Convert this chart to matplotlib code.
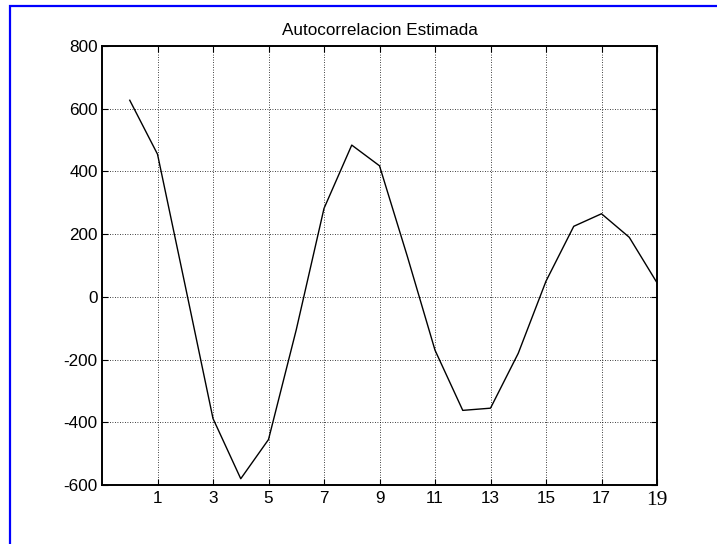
import matplotlib
matplotlib.use("Agg")
import matplotlib.pyplot as plt
from matplotlib.patches import Rectangle

lags = list(range(0, 20))
values = [627, 455, 35, -388, -580, -455, -105, 282, 484, 418,
          130, -170, -362, -355, -180, 50, 225, 265, 190, 45]
xticks = [1, 3, 5, 7, 9, 11, 13, 15, 17, 19]
yticks = [-600, -400, -200, 0, 200, 400, 600, 800]
title = "Autocorrelacion Estimada"

W, H = 717, 544
fig = plt.figure(figsize=(W / 100, H / 100), dpi=100)
fig.patch.set_facecolor("white")

# blue frame (top and left visible)
fig.patches.append(Rectangle((9.5 / W, -0.1), 1.2, 1.1 - 6.5 / H,
                             transform=fig.transFigure, fill=False,
                             edgecolor=(0, 0, 1), linewidth=1.6))

ax = fig.add_axes([102 / W, 1 - 485 / H, (657 - 102) / W, (485 - 46) / H])
ax.plot(lags, values, color="black", linewidth=1.0)
ax.set_xlim(-1, 19)
ax.set_ylim(-600, 800)
ax.set_xticks(xticks)
ax.set_yticks(yticks)
ax.set_xticklabels([str(t) for t in xticks])
ax.set_yticklabels([str(t) for t in yticks])
ax.grid(True, color="black", linestyle=(0, (1, 2)), linewidth=0.6)
ax.tick_params(direction="in", top=True, right=True, length=4, width=0.8,
               labelsize=12.3)
ax.tick_params(axis="x", pad=4.5)
ax.tick_params(axis="y", pad=3)
for lab in ax.get_xticklabels() + ax.get_yticklabels():
    lab.set_family("Liberation Sans")
xl = ax.get_xticklabels()
xl[-1].set_family("Liberation Serif")
xl[-1].set_fontsize(15.5)
for s in ax.spines.values():
    s.set_linewidth(1.4)
ax.set_title(title, fontsize=12.3, family="Liberation Sans", pad=8)

fig.savefig("out.png", dpi=100)
